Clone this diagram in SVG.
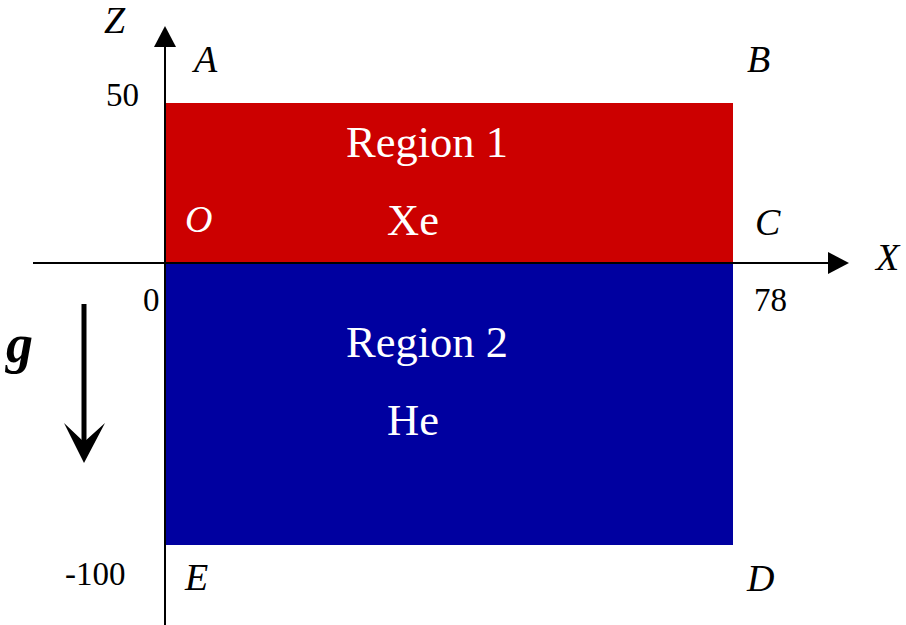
<svg xmlns="http://www.w3.org/2000/svg" width="906" height="625" viewBox="0 0 906 625">
<style>
text{font-family:"Liberation Serif","Times New Roman",serif;fill:#000}
.lbl{font-size:38px;font-style:italic}
.num{font-size:33px}
.reg{font-size:44.5px;fill:#fff}
.axis{stroke:#000;stroke-width:2;fill:none}
</style>
<rect width="906" height="625" fill="#fff"/>
<g id="region1">
<rect x="165" y="103" width="568" height="160" fill="#CC0000"/>
<text class="reg" x="346" y="157">Region 1</text>
<text class="reg" x="387" y="235">Xe</text>
</g>
<g id="region2">
<rect x="165" y="263" width="568" height="282" fill="#0000A0"/>
<text class="reg" x="346" y="357">Region 2</text>
<text class="reg" x="387" y="435">He</text>
</g>
<g id="connectors">
<line class="axis" x1="165" y1="625" x2="165" y2="46"/>
<polygon points="165,26 154,47 176,47" fill="#000"/>
<line class="axis" x1="33" y1="263" x2="829" y2="263"/>
<polygon points="849,263 828,252 828,274" fill="#000"/>
<line x1="84" y1="304" x2="84" y2="446" stroke="#000" stroke-width="5"/>
<polygon points="84,463 64,423 84,442 105,423" fill="#000"/>
</g>
<g id="labels">
<text class="lbl" x="104" y="33">Z</text>
<text class="lbl" x="194" y="72">A</text>
<text class="lbl" x="747" y="72">B</text>
<text class="lbl" x="185" y="232" style="fill:#fff">O</text>
<text class="lbl" x="755" y="235">C</text>
<text class="lbl" x="876" y="270">X</text>
<text class="lbl" x="185" y="590">E</text>
<text class="lbl" x="747" y="591">D</text>
<text class="num" x="106" y="106">50</text>
<text class="num" x="143" y="311">0</text>
<text class="num" x="754" y="311">78</text>
<text class="num" x="65" y="585">-100</text>
<text x="6" y="362" style="font-size:54px;font-weight:bold;font-style:italic">g</text>
</g>
</svg>
